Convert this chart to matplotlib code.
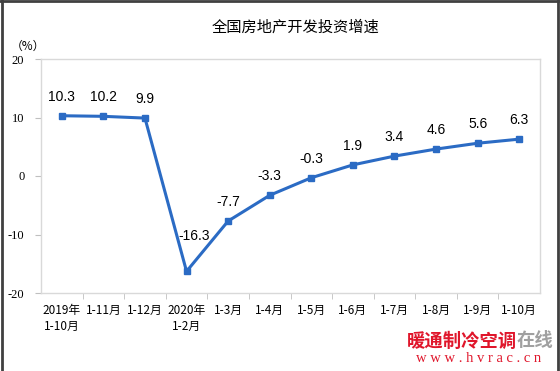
import matplotlib
matplotlib.use("Agg")
import matplotlib.pyplot as plt
from matplotlib.lines import Line2D

categories = ["2019年\n1-10月", "1-11月", "1-12月", "2020年\n1-2月", "1-3月", "1-4月",
              "1-5月", "1-6月", "1-7月", "1-8月", "1-9月", "1-10月"]
values = [10.3, 10.2, 9.9, -16.3, -7.7, -3.3, -0.3, 1.9, 3.4, 4.6, 5.6, 6.3]
yticks = [-20, -10, 0, 10, 20]

CJK = ['Noto Sans CJK SC', 'DejaVu Sans']
SERIF = ['Liberation Serif', 'Noto Sans CJK SC']

fig = plt.figure(figsize=(5.6, 3.71), dpi=100)
ax = fig.add_axes([41/560, 1-293/371, 499/560, 234/371])

x = list(range(len(values)))
blue = '#2B6BC4'
ax.plot(x, values, color=blue, lw=2.2, marker='s', ms=4.5, mfc=blue, mec=blue, zorder=3)

for i, v in enumerate(values):
    if v == -16.3:
        ax.annotate(f"{v}", (i, v), xytext=(8, 35), textcoords='offset pixels',
                    ha='center', va='center', fontsize=10, family='Liberation Sans', color='#000000')
    else:
        ax.annotate(f"{v}", (i, v), xytext=(0, 19), textcoords='offset pixels',
                    ha='center', va='center', fontsize=10, family='Liberation Sans', color='#000000')

ax.set_xlim(-0.5, len(values)-0.5)
ax.set_ylim(-20, 20)
ax.set_yticks(yticks)
ax.set_yticklabels([str(t) for t in yticks], family=SERIF, fontsize=9)
ax.set_xticks(x)
ax.set_xticklabels(categories, family=['Noto Sans CJK SC', 'DejaVu Sans'], fontsize=8.5, linespacing=1.3)
ax.tick_params(axis='x', length=0, pad=8)
ax.tick_params(axis='y', length=4, color='#BFBFBF', pad=8, direction='out')
ax.set_xticks([k - 0.5 for k in range(1, len(values))], minor=True)
ax.tick_params(axis='x', which='minor', length=4, color='#BFBFBF', direction='out')
for s in ax.spines.values():
    s.set_color('#D9D9D9')
    s.set_linewidth(1.0)

fig.text(296/560, 1-27/371, "全国房地产开发投资增速", ha='center', va='center',
         fontsize=11, family=CJK)
fig.text(28/560, 1-46/371, "（%）", ha='center', va='center', fontsize=8.5, family=CJK)

# watermark
fig.text(517/560, 1-341/371, "暖通制冷空调", ha='right', va='center', fontsize=13.2,
         family=CJK, color='#E0162B', fontweight='bold')
fig.text(517/560, 1-341/371, "在线", ha='left', va='center', fontsize=13.2,
         family=CJK, color='#A0A0A0', fontweight='bold')
fig.text(479/560, 1-359/371, "w w w . h v r a c . c n", ha='center', va='center', fontsize=10.5,
         family='Liberation Serif', color='#E0162B')

# frame
for xs, ys in [([1.5/560, 1.5/560], [0, 1]), ([557.5/560, 557.5/560], [0, 1]),
               ([0, 558/560], [1-1/371, 1-1/371])]:
    fig.add_artist(Line2D(xs, ys, color='#404040', lw=2, transform=fig.transFigure))

fig.savefig('out.png', dpi=100)
